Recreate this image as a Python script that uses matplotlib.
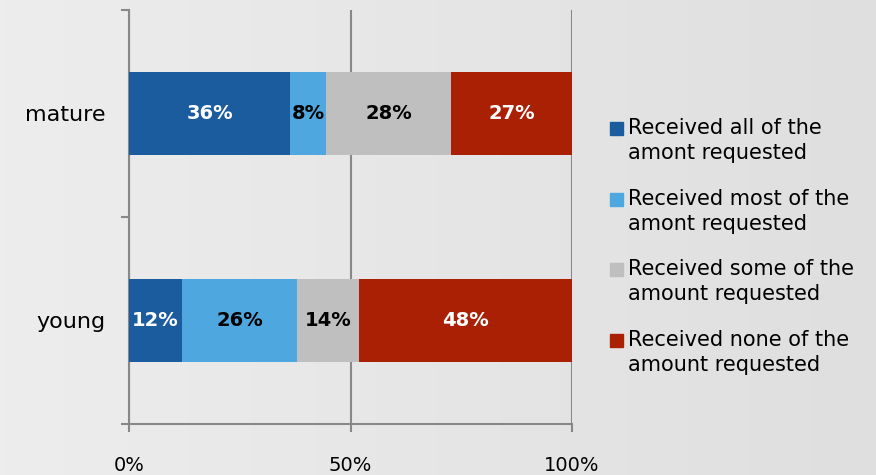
import matplotlib.pyplot as plt
import numpy as np
from matplotlib.patches import Rectangle
from matplotlib.colors import LinearSegmentedColormap

groups = ["young", "mature"]
series = [
    "Received all of the\namont requested",
    "Received most of the\namont requested",
    "Received some of the\namount requested",
    "Received none of the\namount requested",
]
# percentage per group, in the order of groups
values = [
    [12, 36],
    [26, 8],
    [14, 28],
    [48, 27],
]
colors = ["#1b5c9f", "#4ea7df", "#bfbfbf", "#a92004"]
label_colors = ["white", "black", "black", "white"]

fig = plt.figure(figsize=(8.76, 4.75), dpi=100)

# soft grey gradient behind everything
bg = fig.add_axes([0, 0, 1, 1], zorder=-10)
grad = np.linspace(0, 1, 256).reshape(1, -1)
cmap = LinearSegmentedColormap.from_list("bg", ["#ededed", "#dfdfdf"])
bg.imshow(grad, aspect="auto", cmap=cmap, extent=[0, 1, 0, 1])
bg.axis("off")

ax = fig.add_axes([0.1473, 0.1074, 0.5057, 0.8716])
ax.patch.set_alpha(0)

vals = np.array(values, dtype=float)
totals = vals.sum(axis=0)
shares = vals / totals * 100
y = np.arange(len(groups)) + 0.5
left = np.zeros(len(groups))
for i in range(len(series)):
    ax.barh(y, shares[i], left=left, height=0.4, color=colors[i], zorder=3)
    for j in range(len(groups)):
        ax.text(left[j] + shares[i][j] / 2, y[j], str(values[i][j]) + "%",
                ha="center", va="center", fontsize=14, fontweight="bold",
                color=label_colors[i], zorder=4)
    left += shares[i]

ax.set_xlim(0, 100)
ax.set_ylim(0, len(groups))
ax.set_xticks([0, 50, 100])
ax.set_xticklabels(["0%", "50%", "100%"], fontsize=14)
ax.set_yticks([0, 1, 2])
ax.set_yticklabels([])
ax.set_yticks(y, minor=True)
ax.set_yticklabels(groups, minor=True, fontsize=16)
ax.tick_params(axis="y", which="minor", length=0, pad=17)
ax.tick_params(axis="y", which="major", length=6, color="#888888", width=1.5)
ax.tick_params(axis="x", length=6, color="#888888", width=1.5, pad=17)
ax.grid(axis="x", color="#888888", linewidth=1.5, zorder=0)
for s in ["top", "right"]:
    ax.spines[s].set_visible(False)
for s in ["left", "bottom"]:
    ax.spines[s].set_color("#888888")
    ax.spines[s].set_linewidth(1.5)

# legend drawn by hand so each square sits next to the first text line
W, H = fig.get_size_inches() * fig.dpi
for k, (lab, col) in enumerate(zip(series, colors)):
    top = 122 + k * 70.7
    fig.patches.append(Rectangle((610 / W, 1 - (top + 13) / H), 13 / W, 13 / H,
                                 color=col, transform=fig.transFigure))
    fig.text(628 / W, 1 - (top - 4) / H, lab, fontsize=15, va="top",
             ha="left", linespacing=1.3)

plt.savefig("out.png", dpi=100)
